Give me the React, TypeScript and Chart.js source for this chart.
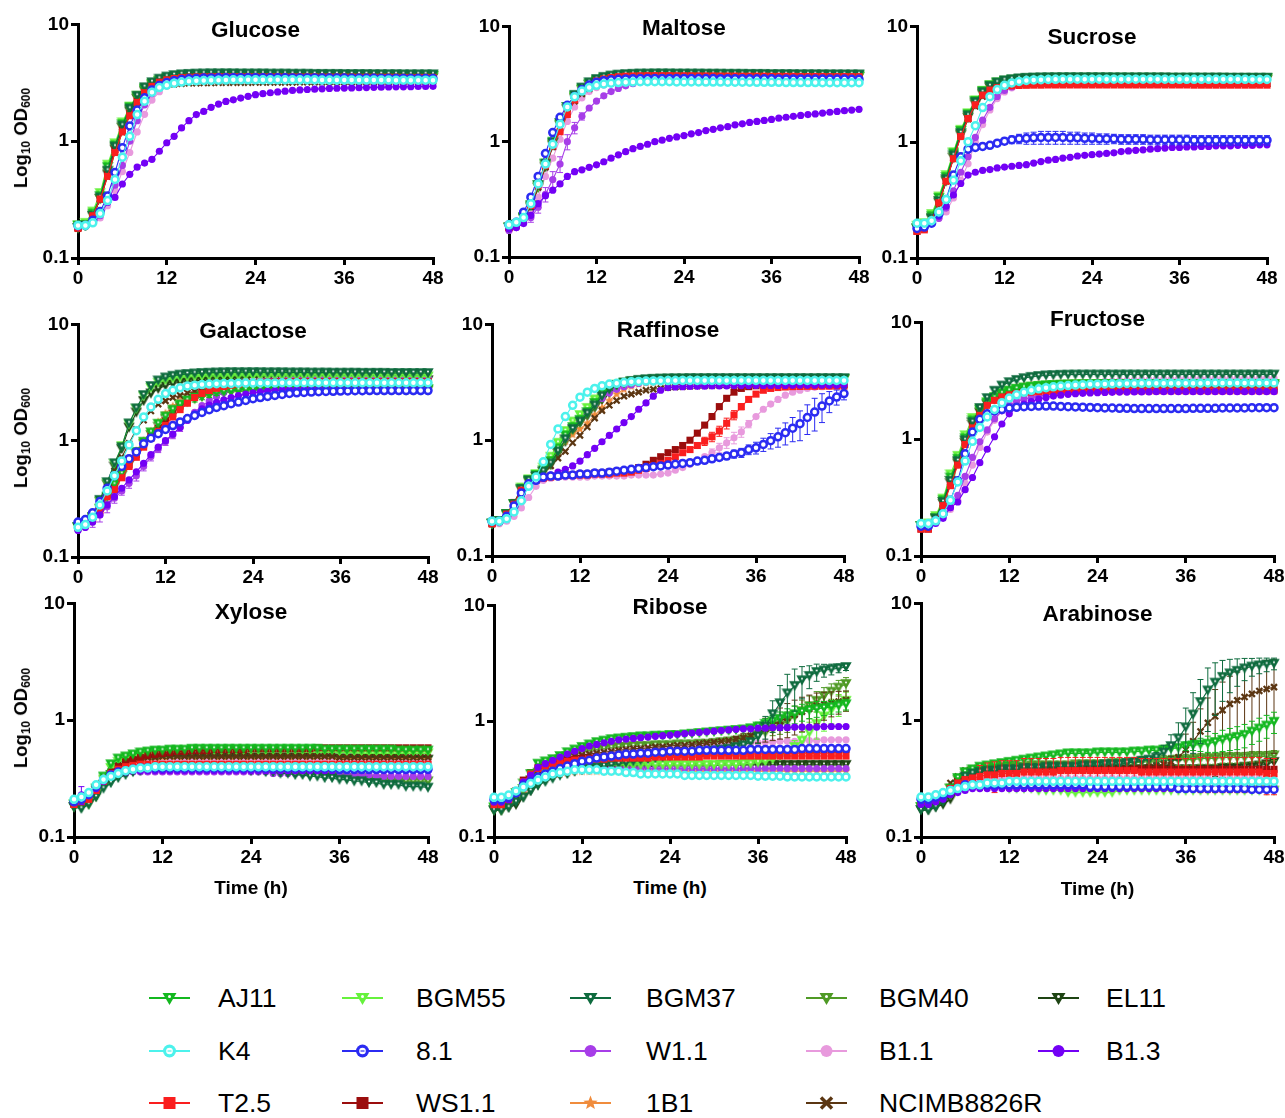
import React, { useEffect, useRef } from 'react';
import { Chart, registerables } from 'chart.js';

Chart.register(...registerables);

const FONT = '"Liberation Sans", Arial, Helvetica, sans-serif';

const HOURS = [0,1,2,3,4,5,6,7,8,9,10,11,12,13,14,15,16,17,18,19,20,21,22,23,24,25,26,27,28,29,30,31,32,33,34,35,36,37,38,39,40,41,42,43,44,45,46,47,48];
const X_TICKS = [0, 12, 24, 36, 48];
const Y_TICKS = [0.1, 1, 10];

const STRAINS = ['AJ11','BGM55','BGM37','BGM40','EL11','K4','8.1','W1.1','B1.1','B1.3','T2.5','WS1.1','1B1','NCIMB8826R'];
const COLORS = ['#13B81F','#66F23C','#0E6B3E','#4F9A25','#1E4413','#4CF2EC','#2B2BF2','#A73DE8','#E89ADD','#7300F5','#FA1E1E','#9B0D0D','#F08C3C','#5B3612'];
const MARKERS = ['tri','tri','tri','tri','tri','ring','ring','dot','dot','dot','square','square','star','cross'];
const DRAW_ORDER = [5,8,4,11,13,0,1,9,10,2,3,6,12,7];

// ---------------- Glucose ----------------
const GLUCOSE = [
  [0.19,0.19,0.24,0.34,0.6,0.92,1.4,1.95,2.4,2.8, 3.1,3.3,3.45,3.55,3.6,3.64,3.67,3.69,3.7,3.71, 3.72,3.72,3.72,3.72,3.71,3.71,3.7,3.7,3.7,3.7, 3.69,3.69,3.69,3.68,3.68,3.68,3.68,3.67,3.67,3.67, 3.66,3.66,3.66,3.66,3.65,3.65,3.65,3.65,3.65],
  [0.19,0.2,0.25,0.36,0.63,0.96,1.45,1.98,2.45,2.85, 3.12,3.32,3.46,3.54,3.6,3.63,3.66,3.68,3.69,3.7, 3.7,3.7,3.7,3.7,3.7,3.69,3.69,3.69,3.68,3.68, 3.68,3.67,3.67,3.67,3.66,3.66,3.66,3.65,3.65,3.65, 3.64,3.64,3.64,3.64,3.63,3.63,3.63,3.63,3.62],
  [0.18,0.19,0.23,0.33,0.56,0.9,1.36,1.9,2.45,2.9, 3.2,3.43,3.58,3.68,3.74,3.77,3.79,3.8,3.81,3.81, 3.81,3.81,3.8,3.8,3.8,3.8,3.79,3.79,3.79,3.78, 3.78,3.78,3.77,3.77,3.77,3.77,3.76,3.76,3.76,3.76, 3.75,3.75,3.75,3.75,3.74,3.74,3.74,3.74,3.74],
  [0.18,0.19,0.23,0.32,0.55,0.88,1.32,1.85,2.35,2.75, 3.05,3.28,3.42,3.52,3.58,3.61,3.63,3.64,3.65,3.65, 3.66,3.66,3.66,3.66,3.65,3.65,3.65,3.65,3.64,3.64, 3.64,3.64,3.63,3.63,3.63,3.63,3.62,3.62,3.62,3.62, 3.61,3.61,3.61,3.61,3.6,3.6,3.6,3.6,3.6],
  [0.18,0.19,0.23,0.32,0.52,0.85,1.3,1.8,2.3,2.7, 3.0,3.2,3.34,3.43,3.48,3.51,3.53,3.54,3.55,3.55, 3.56,3.56,3.56,3.56,3.56,3.55,3.55,3.55,3.55,3.55, 3.54,3.54,3.54,3.54,3.54,3.53,3.53,3.53,3.53,3.53, 3.52,3.52,3.52,3.52,3.52,3.51,3.51,3.51,3.51],
  [0.19,0.19,0.2,0.24,0.31,0.47,0.73,1.1,1.69,2.2, 2.63,2.88,3.02,3.14,3.21,3.26,3.29,3.31,3.32,3.33, 3.34,3.35,3.35,3.35,3.35,3.35,3.35,3.35,3.35,3.35, 3.35,3.35,3.35,3.34,3.34,3.34,3.34,3.34,3.34,3.34, 3.34,3.34,3.34,3.33,3.33,3.33,3.33,3.33,3.33],
  [0.19,0.19,0.21,0.25,0.34,0.54,0.88,1.35,1.85,2.35, 2.75,3.0,3.18,3.3,3.37,3.42,3.45,3.47,3.48,3.49, 3.5,3.5,3.5,3.5,3.5,3.49,3.49,3.49,3.49,3.48, 3.48,3.48,3.48,3.47,3.47,3.47,3.47,3.46,3.46,3.46, 3.46,3.45,3.45,3.45,3.45,3.44,3.44,3.44,3.44],
  [0.18,0.19,0.2,0.23,0.3,0.42,0.62,1.0,1.5,2.05, 2.55,2.9,3.15,3.3,3.4,3.46,3.5,3.53,3.55,3.56, 3.57,3.58,3.58,3.58,3.58,3.58,3.58,3.58,3.57,3.57, 3.57,3.57,3.57,3.56,3.56,3.56,3.56,3.56,3.55,3.55, 3.55,3.55,3.55,3.54,3.54,3.54,3.54,3.54,3.54],
  [0.18,0.19,0.2,0.22,0.28,0.38,0.55,0.8,1.2,1.7, 2.25,2.65,2.95,3.15,3.27,3.34,3.39,3.42,3.44,3.45, 3.46,3.46,3.46,3.46,3.46,3.46,3.46,3.45,3.45,3.45, 3.45,3.45,3.45,3.44,3.44,3.44,3.44,3.44,3.44,3.43, 3.43,3.43,3.43,3.43,3.43,3.42,3.42,3.42,3.42],
  [0.185,0.19,0.2,0.24,0.3,0.33,0.43,0.52,0.6,0.65, 0.7,0.82,0.97,1.1,1.3,1.5,1.69,1.8,1.95,2.08, 2.19,2.26,2.34,2.42,2.5,2.55,2.6,2.64,2.68,2.72, 2.75,2.77,2.79,2.81,2.83,2.84,2.85,2.86,2.87,2.88, 2.89,2.9,2.91,2.92,2.92,2.93,2.94,2.94,2.95],
  [0.18,0.19,0.23,0.32,0.5,0.8,1.2,1.65,2.15,2.6, 2.95,3.2,3.35,3.44,3.5,3.53,3.55,3.56,3.57,3.57, 3.57,3.57,3.57,3.57,3.56,3.56,3.56,3.56,3.55,3.55, 3.55,3.55,3.55,3.54,3.54,3.54,3.54,3.54,3.53,3.53, 3.53,3.53,3.53,3.53,3.52,3.52,3.52,3.52,3.52],
  [0.18,0.19,0.23,0.32,0.52,0.85,1.25,1.72,2.2,2.65, 2.95,3.18,3.32,3.41,3.47,3.5,3.52,3.53,3.54,3.54, 3.54,3.54,3.54,3.54,3.54,3.53,3.53,3.53,3.53,3.53, 3.52,3.52,3.52,3.52,3.52,3.51,3.51,3.51,3.51,3.51, 3.5,3.5,3.5,3.5,3.5,3.5,3.49,3.49,3.49],
  [0.18,0.19,0.23,0.33,0.55,0.88,1.3,1.8,2.3,2.7, 3.0,3.2,3.34,3.42,3.46,3.48,3.5,3.5,3.51,3.51, 3.51,3.51,3.51,3.51,3.5,3.5,3.5,3.5,3.5,3.5, 3.49,3.49,3.49,3.49,3.49,3.48,3.48,3.48,3.48,3.48, 3.47,3.47,3.47,3.47,3.47,3.46,3.46,3.46,3.46],
  [0.18,0.19,0.23,0.32,0.5,0.8,1.2,1.65,2.1,2.5, 2.78,2.94,3.03,3.08,3.11,3.13,3.14,3.15,3.15,3.16, 3.16,3.17,3.17,3.17,3.18,3.18,3.18,3.19,3.19,3.19, 3.2,3.2,3.2,3.2,3.21,3.21,3.21,3.21,3.22,3.22, 3.22,3.22,3.22,3.23,3.23,3.23,3.23,3.23,3.24],
];

// ---------------- Maltose ----------------
const MALTOSE = [
  [0.18,0.19,0.22,0.28,0.42,0.65,1.0,1.45,2.0,2.5, 2.9,3.2,3.42,3.57,3.67,3.74,3.78,3.8,3.82,3.83, 3.84,3.84,3.84,3.84,3.84,3.83,3.83,3.83,3.82,3.82, 3.82,3.81,3.81,3.81,3.8,3.8,3.8,3.8,3.79,3.79, 3.79,3.79,3.78,3.78,3.78,3.78,3.78,3.77,3.77],
  [0.18,0.19,0.22,0.28,0.41,0.63,0.97,1.42,1.95,2.45, 2.85,3.15,3.38,3.52,3.62,3.68,3.72,3.74,3.75,3.76, 3.76,3.76,3.76,3.76,3.75,3.75,3.75,3.74,3.74,3.74, 3.73,3.73,3.73,3.72,3.72,3.72,3.71,3.71,3.71,3.7, 3.7,3.7,3.7,3.69,3.69,3.69,3.69,3.68,3.68],
  [0.18,0.19,0.22,0.28,0.42,0.64,0.98,1.45,2.0,2.55, 2.95,3.28,3.5,3.65,3.75,3.82,3.86,3.88,3.9,3.9, 3.91,3.91,3.91,3.9,3.9,3.9,3.9,3.89,3.89,3.89, 3.88,3.88,3.88,3.87,3.87,3.87,3.86,3.86,3.86,3.86, 3.85,3.85,3.85,3.85,3.84,3.84,3.84,3.84,3.84],
  [0.18,0.19,0.22,0.27,0.4,0.62,0.95,1.4,1.92,2.42, 2.82,3.12,3.35,3.5,3.6,3.66,3.7,3.72,3.73,3.74, 3.74,3.74,3.74,3.74,3.73,3.73,3.73,3.72,3.72,3.72, 3.71,3.71,3.71,3.7,3.7,3.7,3.7,3.69,3.69,3.69, 3.69,3.68,3.68,3.68,3.68,3.67,3.67,3.67,3.67],
  [0.18,0.19,0.22,0.27,0.4,0.6,0.93,1.38,1.9,2.4, 2.8,3.1,3.32,3.47,3.57,3.63,3.67,3.69,3.7,3.71, 3.71,3.71,3.71,3.71,3.7,3.7,3.7,3.69,3.69,3.69, 3.68,3.68,3.68,3.67,3.67,3.67,3.67,3.66,3.66,3.66, 3.66,3.65,3.65,3.65,3.65,3.64,3.64,3.64,3.64],
  [0.19,0.2,0.22,0.29,0.43,0.64,0.95,1.42,2.0,2.45, 2.75,2.95,3.08,3.17,3.22,3.26,3.28,3.3,3.31,3.31, 3.31,3.31,3.31,3.3,3.3,3.3,3.3,3.29,3.29,3.29, 3.28,3.28,3.28,3.28,3.27,3.27,3.27,3.27,3.26,3.26, 3.26,3.26,3.26,3.25,3.25,3.25,3.25,3.25,3.25],
  [0.19,0.2,0.245,0.33,0.5,0.79,1.2,1.63,2.07,2.47, 2.82,3.1,3.28,3.38,3.44,3.48,3.5,3.52,3.53,3.54, 3.54,3.54,3.54,3.54,3.54,3.53,3.53,3.53,3.53,3.52, 3.52,3.52,3.52,3.51,3.51,3.51,3.51,3.5,3.5,3.5, 3.5,3.5,3.49,3.49,3.49,3.49,3.49,3.48,3.48],
  [0.17,0.18,0.2,0.22,0.27,0.35,0.47,0.64,1.0,1.32, 1.66,1.96,2.25,2.5,2.72,2.9,3.05,3.18,3.28,3.36, 3.42,3.46,3.5,3.52,3.54,3.55,3.56,3.56,3.56,3.56, 3.56,3.56,3.55,3.55,3.55,3.55,3.55,3.54,3.54,3.54, 3.54,3.54,3.53,3.53,3.53,3.53,3.53,3.52,3.52],
  [0.17,0.18,0.2,0.24,0.33,0.5,0.72,1.05,1.5,2.0, 2.4,2.72,2.95,3.1,3.2,3.27,3.32,3.35,3.37,3.38, 3.39,3.4,3.4,3.4,3.4,3.4,3.4,3.4,3.39,3.39, 3.39,3.39,3.39,3.38,3.38,3.38,3.38,3.38,3.37,3.37, 3.37,3.37,3.37,3.37,3.36,3.36,3.36,3.36,3.36],
  [0.175,0.18,0.195,0.23,0.29,0.34,0.38,0.43,0.5,0.55, 0.57,0.6,0.63,0.67,0.72,0.77,0.82,0.87,0.91,0.95, 1.0,1.03,1.07,1.1,1.13,1.17,1.2,1.25,1.28,1.32, 1.35,1.4,1.43,1.47,1.5,1.53,1.56,1.6,1.63,1.66, 1.69,1.72,1.74,1.77,1.8,1.83,1.86,1.88,1.91],
  [0.18,0.19,0.22,0.28,0.42,0.62,0.92,1.22,1.72,2.3, 2.8,3.12,3.36,3.5,3.6,3.66,3.7,3.72,3.73,3.74, 3.74,3.74,3.74,3.73,3.73,3.73,3.72,3.72,3.72,3.71, 3.71,3.71,3.7,3.7,3.7,3.7,3.69,3.69,3.69,3.69, 3.68,3.68,3.68,3.68,3.67,3.67,3.67,3.67,3.67],
  [0.18,0.19,0.22,0.28,0.43,0.66,1.0,1.45,1.95,2.45, 2.85,3.15,3.38,3.52,3.62,3.68,3.71,3.73,3.74,3.75, 3.75,3.75,3.75,3.74,3.74,3.74,3.73,3.73,3.73,3.72, 3.72,3.72,3.71,3.71,3.71,3.71,3.7,3.7,3.7,3.7, 3.69,3.69,3.69,3.69,3.68,3.68,3.68,3.68,3.68],
  [0.18,0.19,0.22,0.28,0.42,0.64,0.97,1.42,1.95,2.45, 2.83,3.12,3.34,3.48,3.57,3.62,3.65,3.67,3.68,3.69, 3.69,3.69,3.69,3.69,3.68,3.68,3.68,3.67,3.67,3.67, 3.66,3.66,3.66,3.66,3.65,3.65,3.65,3.65,3.64,3.64, 3.64,3.64,3.63,3.63,3.63,3.63,3.63,3.62,3.62],
  [0.18,0.19,0.22,0.27,0.4,0.6,0.9,1.32,1.8,2.25, 2.6,2.88,3.08,3.22,3.32,3.39,3.44,3.47,3.49,3.5, 3.51,3.51,3.51,3.51,3.51,3.5,3.5,3.5,3.5,3.5, 3.49,3.49,3.49,3.49,3.48,3.48,3.48,3.48,3.48,3.47, 3.47,3.47,3.47,3.47,3.46,3.46,3.46,3.46,3.46],
];

// ---------------- Sucrose ----------------
const SUCROSE = [
  [0.18,0.19,0.23,0.33,0.5,0.8,1.25,1.74,2.27,2.76, 3.1,3.28,3.4,3.47,3.52,3.55,3.57,3.58,3.59,3.6, 3.6,3.6,3.6,3.6,3.6,3.6,3.6,3.6,3.6,3.6, 3.6,3.6,3.6,3.6,3.59,3.59,3.59,3.59,3.59,3.59, 3.59,3.59,3.59,3.58,3.58,3.58,3.58,3.58,3.58],
  [0.19,0.2,0.24,0.34,0.52,0.82,1.28,1.78,2.3,2.78, 3.1,3.27,3.38,3.45,3.5,3.53,3.55,3.56,3.57,3.57, 3.58,3.58,3.58,3.58,3.58,3.58,3.58,3.58,3.58,3.58, 3.57,3.57,3.57,3.57,3.57,3.57,3.57,3.57,3.56,3.56, 3.56,3.56,3.56,3.56,3.56,3.56,3.56,3.55,3.55],
  [0.18,0.19,0.22,0.31,0.48,0.77,1.2,1.7,2.22,2.7, 3.05,3.28,3.42,3.5,3.56,3.6,3.62,3.63,3.64,3.64, 3.64,3.64,3.64,3.64,3.64,3.64,3.64,3.63,3.63,3.63, 3.63,3.63,3.63,3.63,3.63,3.62,3.62,3.62,3.62,3.62, 3.62,3.62,3.62,3.61,3.61,3.61,3.61,3.61,3.61],
  [0.18,0.19,0.22,0.31,0.47,0.75,1.18,1.66,2.18,2.65, 3.0,3.22,3.36,3.44,3.49,3.52,3.54,3.55,3.56,3.56, 3.56,3.56,3.56,3.56,3.56,3.56,3.56,3.56,3.55,3.55, 3.55,3.55,3.55,3.55,3.55,3.55,3.54,3.54,3.54,3.54, 3.54,3.54,3.54,3.54,3.53,3.53,3.53,3.53,3.53],
  [0.18,0.19,0.22,0.3,0.46,0.73,1.15,1.62,2.12,2.6, 2.95,3.15,3.28,3.36,3.41,3.44,3.46,3.47,3.48,3.48, 3.48,3.48,3.48,3.48,3.48,3.48,3.48,3.47,3.47,3.47, 3.47,3.47,3.47,3.47,3.47,3.46,3.46,3.46,3.46,3.46, 3.46,3.46,3.46,3.46,3.45,3.45,3.45,3.45,3.45],
  [0.2,0.2,0.21,0.25,0.32,0.47,0.69,1.01,1.39,1.99, 2.47,2.85,3.1,3.25,3.35,3.41,3.45,3.47,3.48,3.49, 3.5,3.5,3.5,3.5,3.5,3.5,3.5,3.5,3.5,3.5, 3.5,3.5,3.5,3.5,3.5,3.49,3.49,3.49,3.49,3.49, 3.49,3.49,3.49,3.49,3.49,3.49,3.48,3.48,3.48],
  [0.18,0.185,0.2,0.24,0.32,0.52,0.75,0.87,0.9,0.92, 0.94,0.98,1.02,1.05,1.07,1.08,1.09,1.1,1.1,1.1, 1.1,1.09,1.09,1.08,1.08,1.07,1.07,1.07,1.06,1.06, 1.06,1.06,1.05,1.05,1.05,1.05,1.05,1.05,1.04,1.04, 1.04,1.04,1.04,1.04,1.04,1.04,1.04,1.04,1.04],
  [0.18,0.185,0.2,0.22,0.27,0.38,0.55,0.75,1.1,1.55, 2.0,2.48,2.8,3.0,3.15,3.25,3.32,3.37,3.4,3.42, 3.43,3.44,3.45,3.45,3.45,3.45,3.45,3.45,3.45,3.45, 3.45,3.45,3.44,3.44,3.44,3.44,3.44,3.44,3.44,3.44, 3.44,3.43,3.43,3.43,3.43,3.43,3.43,3.43,3.43],
  [0.18,0.185,0.2,0.22,0.25,0.33,0.47,0.65,1.0,1.42, 1.9,2.38,2.72,2.95,3.1,3.2,3.27,3.32,3.35,3.37, 3.38,3.39,3.4,3.4,3.4,3.4,3.4,3.4,3.4,3.4, 3.4,3.4,3.39,3.39,3.39,3.39,3.39,3.39,3.39,3.39, 3.38,3.38,3.38,3.38,3.38,3.38,3.38,3.38,3.38],
  [0.18,0.185,0.2,0.23,0.28,0.35,0.44,0.52,0.55,0.57, 0.58,0.6,0.61,0.62,0.63,0.64,0.66,0.68,0.7,0.71, 0.73,0.74,0.76,0.77,0.78,0.79,0.8,0.81,0.83,0.84, 0.85,0.86,0.87,0.88,0.89,0.9,0.9,0.91,0.91,0.92, 0.92,0.93,0.93,0.93,0.94,0.94,0.94,0.95,0.95],
  [0.17,0.175,0.21,0.3,0.46,0.72,1.12,1.6,2.1,2.55, 2.82,2.96,3.03,3.07,3.09,3.1,3.11,3.11,3.12,3.12, 3.12,3.12,3.12,3.12,3.12,3.12,3.12,3.12,3.12,3.12, 3.12,3.12,3.12,3.12,3.12,3.12,3.12,3.12,3.11,3.11, 3.11,3.11,3.11,3.11,3.11,3.11,3.11,3.11,3.11],
  [0.17,0.18,0.21,0.3,0.47,0.74,1.15,1.63,2.13,2.6, 2.9,3.05,3.13,3.18,3.2,3.22,3.23,3.23,3.24,3.24, 3.24,3.24,3.24,3.24,3.24,3.24,3.24,3.24,3.24,3.24, 3.24,3.23,3.23,3.23,3.23,3.23,3.23,3.23,3.23,3.23, 3.23,3.23,3.23,3.23,3.22,3.22,3.22,3.22,3.22],
  [0.18,0.19,0.22,0.31,0.48,0.77,1.2,1.68,2.2,2.66, 3.0,3.2,3.32,3.39,3.43,3.46,3.48,3.49,3.5,3.5, 3.5,3.5,3.5,3.5,3.5,3.5,3.5,3.5,3.5,3.5, 3.5,3.5,3.5,3.49,3.49,3.49,3.49,3.49,3.49,3.49, 3.49,3.49,3.49,3.49,3.49,3.48,3.48,3.48,3.48],
  [0.18,0.19,0.22,0.3,0.46,0.73,1.12,1.58,2.05,2.48, 2.78,2.95,3.05,3.1,3.13,3.15,3.16,3.17,3.17,3.18, 3.18,3.18,3.18,3.18,3.18,3.18,3.18,3.18,3.18,3.18, 3.18,3.18,3.18,3.18,3.18,3.18,3.18,3.18,3.18,3.18, 3.18,3.18,3.18,3.18,3.18,3.18,3.18,3.18,3.18],
];

// ---------------- Galactose ----------------
const GALACTOSE = [
  [0.18,0.19,0.21,0.26,0.33,0.42,0.52,0.64,0.8,0.98, 1.18,1.4,1.62,1.85,2.05,2.22,2.35,2.45,2.53,2.6, 2.65,2.69,2.72,2.74,2.76,2.77,2.78,2.79,2.79,2.8, 2.8,2.8,2.8,2.8,2.8,2.8,2.8,2.8,2.79,2.79, 2.79,2.79,2.79,2.79,2.79,2.78,2.78,2.78,2.78],
  [0.18,0.19,0.22,0.3,0.43,0.63,0.9,1.38,1.88,2.42, 2.85,3.15,3.32,3.43,3.5,3.54,3.57,3.59,3.6,3.61, 3.61,3.62,3.62,3.62,3.62,3.62,3.61,3.61,3.61,3.61, 3.6,3.6,3.6,3.6,3.6,3.59,3.59,3.59,3.59,3.59, 3.58,3.58,3.58,3.58,3.58,3.57,3.57,3.57,3.57],
  [0.18,0.19,0.22,0.31,0.44,0.64,0.88,1.41,1.9,2.47, 2.95,3.3,3.5,3.62,3.7,3.75,3.79,3.82,3.84,3.86, 3.87,3.88,3.88,3.88,3.88,3.88,3.87,3.87,3.87,3.86, 3.86,3.86,3.85,3.85,3.85,3.84,3.84,3.84,3.84,3.83, 3.83,3.83,3.83,3.82,3.82,3.82,3.82,3.82,3.82],
  [0.18,0.19,0.21,0.26,0.32,0.4,0.5,0.62,0.77,0.94, 1.12,1.32,1.55,1.78,1.98,2.15,2.28,2.38,2.46,2.53, 2.58,2.62,2.65,2.67,2.69,2.7,2.71,2.72,2.72,2.73, 2.73,2.73,2.73,2.73,2.73,2.73,2.73,2.73,2.72,2.72, 2.72,2.72,2.72,2.72,2.72,2.71,2.71,2.71,2.71],
  [0.18,0.19,0.22,0.3,0.42,0.6,0.85,1.3,1.75,2.2, 2.55,2.8,2.98,3.1,3.18,3.23,3.27,3.3,3.32,3.33, 3.34,3.35,3.35,3.35,3.35,3.35,3.35,3.35,3.35,3.34, 3.34,3.34,3.34,3.34,3.34,3.33,3.33,3.33,3.33,3.33, 3.33,3.32,3.32,3.32,3.32,3.32,3.32,3.32,3.31],
  [0.18,0.19,0.22,0.28,0.37,0.5,0.67,0.92,1.22,1.6, 1.95,2.27,2.54,2.71,2.85,2.95,3.0,3.04,3.07,3.09, 3.1,3.11,3.12,3.13,3.13,3.14,3.14,3.14,3.15,3.15, 3.15,3.15,3.15,3.15,3.15,3.15,3.15,3.15,3.15,3.15, 3.15,3.15,3.15,3.15,3.15,3.15,3.15,3.15,3.15],
  [0.2,0.21,0.24,0.3,0.39,0.5,0.6,0.7,0.8,0.94, 1.05,1.15,1.25,1.35,1.45,1.55,1.65,1.75,1.85,1.93, 2.0,2.08,2.15,2.22,2.3,2.35,2.4,2.45,2.5,2.55, 2.58,2.6,2.62,2.64,2.65,2.66,2.67,2.68,2.69,2.69, 2.7,2.7,2.7,2.7,2.7,2.7,2.7,2.7,2.7],
  [0.17,0.18,0.2,0.23,0.27,0.32,0.37,0.43,0.5,0.6, 0.73,0.85,0.98,1.12,1.3,1.5,1.75,2.0,2.2,2.4, 2.6,2.78,2.93,3.04,3.14,3.22,3.28,3.32,3.36,3.39, 3.42,3.44,3.46,3.47,3.48,3.49,3.5,3.5,3.5,3.5, 3.5,3.5,3.5,3.5,3.5,3.5,3.5,3.5,3.5],
  [0.18,0.19,0.21,0.25,0.31,0.4,0.5,0.62,0.78,0.95, 1.15,1.38,1.62,1.88,2.12,2.35,2.55,2.72,2.86,2.97, 3.06,3.13,3.19,3.24,3.28,3.31,3.34,3.36,3.38,3.39, 3.4,3.41,3.42,3.42,3.43,3.43,3.43,3.43,3.43,3.43, 3.43,3.43,3.43,3.43,3.43,3.43,3.43,3.43,3.43],
  [0.17,0.18,0.2,0.23,0.28,0.33,0.39,0.46,0.54,0.64, 0.76,0.88,1.0,1.14,1.3,1.5,1.7,1.88,2.02,2.14, 2.25,2.35,2.44,2.52,2.58,2.63,2.67,2.7,2.73,2.75, 2.77,2.78,2.79,2.8,2.8,2.8,2.8,2.8,2.8,2.8, 2.8,2.8,2.8,2.8,2.8,2.8,2.8,2.8,2.8],
  [0.18,0.19,0.21,0.25,0.33,0.38,0.48,0.6,0.72,0.88, 1.05,1.2,1.35,1.6,1.85,2.1,2.35,2.55,2.7,2.82, 2.92,3.0,3.06,3.1,3.13,3.15,3.17,3.18,3.19,3.2, 3.2,3.2,3.2,3.2,3.2,3.2,3.2,3.2,3.2,3.2, 3.2,3.2,3.2,3.2,3.2,3.2,3.2,3.2,3.2],
  [0.18,0.19,0.21,0.26,0.34,0.4,0.5,0.62,0.76,0.92, 1.1,1.28,1.48,1.72,1.98,2.22,2.45,2.62,2.76,2.88, 2.97,3.04,3.09,3.13,3.16,3.18,3.2,3.21,3.22,3.22, 3.23,3.23,3.23,3.23,3.23,3.23,3.23,3.23,3.23,3.23, 3.23,3.23,3.23,3.23,3.23,3.23,3.23,3.23,3.23],
  [0.18,0.19,0.21,0.26,0.34,0.42,0.53,0.66,0.82,1.0, 1.2,1.45,1.72,1.98,2.22,2.42,2.58,2.7,2.8,2.88, 2.95,3.0,3.04,3.07,3.1,3.12,3.14,3.15,3.16,3.17, 3.18,3.18,3.19,3.19,3.19,3.2,3.2,3.2,3.2,3.2, 3.2,3.2,3.2,3.2,3.2,3.2,3.2,3.2,3.2],
  [0.18,0.19,0.22,0.29,0.4,0.55,0.72,0.95,1.25,1.5, 1.8,2.06,2.2,2.35,2.45,2.57,2.65,2.72,2.78,2.83, 2.87,2.9,2.92,2.94,2.95,2.96,2.97,2.98,2.98,2.99, 2.99,2.99,3.0,3.0,3.0,3.0,3.0,3.0,3.0,3.0, 3.0,3.0,3.0,3.0,3.0,3.0,3.0,3.0,3.0],
];

// ---------------- Raffinose ----------------
const RAFFINOSE = [
  [0.19,0.2,0.23,0.28,0.38,0.45,0.5,0.55,0.66,0.85, 1.1,1.3,1.5,1.75,2.1,2.5,2.8,3.0,3.12,3.2, 3.26,3.3,3.33,3.35,3.36,3.37,3.38,3.38,3.38,3.38, 3.38,3.38,3.38,3.38,3.38,3.38,3.38,3.38,3.38,3.38, 3.38,3.38,3.38,3.38,3.38,3.38,3.38,3.38,3.38],
  [0.19,0.2,0.23,0.28,0.39,0.46,0.51,0.58,0.72,0.95, 1.2,1.45,1.65,1.9,2.25,2.6,2.85,3.02,3.13,3.2, 3.25,3.29,3.32,3.34,3.35,3.36,3.36,3.37,3.37,3.37, 3.37,3.37,3.37,3.37,3.37,3.37,3.37,3.37,3.37,3.37, 3.37,3.37,3.37,3.37,3.37,3.37,3.37,3.37,3.37],
  [0.19,0.2,0.23,0.28,0.38,0.45,0.49,0.54,0.63,0.8, 1.02,1.25,1.45,1.7,2.0,2.4,2.75,3.0,3.15,3.25, 3.32,3.36,3.39,3.41,3.42,3.43,3.43,3.44,3.44,3.44, 3.44,3.44,3.44,3.44,3.44,3.44,3.44,3.44,3.44,3.44, 3.44,3.44,3.44,3.44,3.44,3.44,3.44,3.44,3.44],
  [0.19,0.2,0.23,0.28,0.37,0.44,0.48,0.53,0.62,0.78, 1.0,1.22,1.42,1.66,1.95,2.3,2.65,2.9,3.07,3.18, 3.25,3.3,3.33,3.35,3.36,3.37,3.38,3.38,3.38,3.38, 3.38,3.38,3.38,3.38,3.38,3.38,3.38,3.38,3.38,3.38, 3.38,3.38,3.38,3.38,3.38,3.38,3.38,3.38,3.38],
  [0.19,0.2,0.23,0.28,0.37,0.44,0.48,0.53,0.61,0.76, 0.97,1.18,1.4,1.62,1.9,2.22,2.55,2.82,3.0,3.12, 3.2,3.25,3.28,3.3,3.31,3.32,3.32,3.33,3.33,3.33, 3.33,3.33,3.33,3.33,3.33,3.33,3.33,3.33,3.33,3.33, 3.33,3.33,3.33,3.33,3.33,3.33,3.33,3.33,3.33],
  [0.2,0.2,0.21,0.24,0.3,0.4,0.48,0.65,0.92,1.25, 1.6,2.0,2.35,2.6,2.8,2.95,3.05,3.1,3.15,3.2, 3.22,3.24,3.25,3.26,3.27,3.27,3.28,3.28,3.28,3.28, 3.28,3.28,3.28,3.28,3.28,3.28,3.28,3.28,3.28,3.28, 3.28,3.28,3.28,3.28,3.28,3.28,3.28,3.28,3.28],
  [0.2,0.2,0.22,0.27,0.35,0.42,0.45,0.48,0.49,0.49, 0.5,0.5,0.51,0.51,0.52,0.52,0.53,0.54,0.55,0.56, 0.57,0.58,0.59,0.6,0.61,0.62,0.63,0.64,0.66,0.67, 0.69,0.71,0.73,0.76,0.78,0.83,0.86,0.92,0.99,1.07, 1.16,1.27,1.39,1.57,1.75,1.97,2.18,2.36,2.53],
  [0.19,0.2,0.22,0.27,0.36,0.43,0.48,0.56,0.7,0.88, 1.05,1.3,1.55,1.8,2.05,2.3,2.55,2.75,2.9,3.0, 3.1,3.16,3.2,3.23,3.25,3.27,3.28,3.29,3.3,3.3, 3.3,3.3,3.3,3.3,3.3,3.3,3.3,3.3,3.3,3.3, 3.3,3.3,3.3,3.3,3.3,3.3,3.3,3.3,3.3],
  [0.19,0.19,0.2,0.22,0.26,0.32,0.4,0.45,0.47,0.48, 0.48,0.48,0.48,0.48,0.49,0.49,0.49,0.49,0.49,0.5, 0.5,0.5,0.5,0.51,0.52,0.55,0.58,0.62,0.66,0.72, 0.78,0.86,0.95,1.05,1.18,1.38,1.6,1.85,2.05,2.25, 2.45,2.6,2.7,2.8,2.86,2.9,2.93,2.95,2.96],
  [0.2,0.2,0.22,0.25,0.33,0.4,0.45,0.47,0.5,0.53, 0.56,0.6,0.66,0.75,0.85,0.97,1.1,1.25,1.42,1.6, 1.85,2.1,2.4,2.7,2.85,2.88,2.9,2.91,2.92,2.93, 2.94,2.95,2.95,2.96,2.96,2.96,2.97,2.97,2.97,2.97, 2.97,2.98,2.98,2.98,2.98,2.98,2.98,2.98,2.98],
  [0.19,0.2,0.23,0.28,0.37,0.42,0.45,0.47,0.48,0.49, 0.5,0.5,0.5,0.5,0.51,0.51,0.51,0.52,0.52,0.53, 0.55,0.57,0.6,0.63,0.67,0.72,0.78,0.83,0.9,0.98, 1.07,1.2,1.4,1.65,1.95,2.25,2.5,2.7,2.8,2.85, 2.88,2.9,2.91,2.92,2.92,2.93,2.93,2.93,2.93],
  [0.19,0.2,0.23,0.29,0.38,0.43,0.46,0.48,0.49,0.49, 0.5,0.5,0.51,0.51,0.52,0.52,0.53,0.53,0.54,0.55, 0.58,0.62,0.67,0.72,0.78,0.83,0.9,1.0,1.15,1.35, 1.6,1.95,2.3,2.6,2.8,2.9,2.95,2.98,3.0,3.01, 3.02,3.02,3.02,3.02,3.02,3.02,3.02,3.02,3.02],
  [0.19,0.2,0.23,0.28,0.37,0.44,0.48,0.54,0.64,0.8, 0.98,1.12,1.25,1.4,1.65,1.9,2.2,2.5,2.75,2.92, 3.05,3.13,3.19,3.23,3.26,3.28,3.29,3.3,3.3,3.3, 3.3,3.3,3.3,3.3,3.3,3.3,3.3,3.3,3.3,3.3, 3.3,3.3,3.3,3.3,3.3,3.3,3.3,3.3,3.3],
  [0.19,0.2,0.23,0.28,0.37,0.43,0.47,0.52,0.6,0.7, 0.8,0.95,1.1,1.3,1.55,1.8,2.0,2.2,2.4,2.5, 2.6,2.7,2.75,2.8,2.85,2.88,2.9,2.92,2.94,2.95, 2.96,2.97,2.98,2.98,2.99,2.99,3.0,3.0,3.0,3.0, 3.0,3.0,3.0,3.0,3.0,3.0,3.0,3.0,3.0],
];

// ---------------- Fructose ----------------
const FRUCTOSE = [
  [0.18,0.18,0.21,0.3,0.47,0.68,1.02,1.45,1.78,2.05, 2.28,2.47,2.6,2.7,2.77,2.82,2.86,2.89,2.91,2.93, 2.94,2.95,2.96,2.96,2.97,2.97,2.97,2.97,2.97,2.97, 2.97,2.97,2.97,2.97,2.97,2.97,2.97,2.97,2.97,2.97, 2.97,2.97,2.97,2.97,2.97,2.97,2.97,2.97,2.97],
  [0.18,0.19,0.22,0.31,0.5,0.72,1.08,1.52,1.82,2.08, 2.3,2.48,2.6,2.7,2.76,2.81,2.85,2.88,2.9,2.92, 2.93,2.94,2.95,2.95,2.96,2.96,2.96,2.96,2.96,2.96, 2.96,2.96,2.96,2.96,2.96,2.96,2.96,2.96,2.96,2.96, 2.96,2.96,2.96,2.96,2.96,2.96,2.96,2.96,2.96],
  [0.18,0.18,0.21,0.29,0.44,0.65,0.98,1.4,1.85,2.25, 2.6,2.88,3.08,3.22,3.33,3.42,3.48,3.52,3.54,3.56, 3.57,3.58,3.58,3.58,3.58,3.58,3.58,3.58,3.58,3.58, 3.58,3.58,3.58,3.58,3.58,3.58,3.58,3.58,3.58,3.58, 3.58,3.58,3.58,3.58,3.58,3.58,3.58,3.58,3.58],
  [0.18,0.18,0.21,0.29,0.44,0.64,0.96,1.38,1.72,2.0, 2.22,2.4,2.53,2.63,2.7,2.75,2.79,2.82,2.84,2.86, 2.87,2.88,2.89,2.89,2.9,2.9,2.9,2.9,2.9,2.9, 2.9,2.9,2.9,2.9,2.9,2.9,2.9,2.9,2.9,2.9, 2.9,2.9,2.9,2.9,2.9,2.9,2.9,2.9,2.9],
  [0.18,0.18,0.21,0.28,0.42,0.62,0.93,1.33,1.68,1.98, 2.2,2.38,2.5,2.6,2.67,2.72,2.76,2.79,2.81,2.83, 2.84,2.85,2.86,2.86,2.87,2.87,2.87,2.87,2.87,2.87, 2.87,2.87,2.87,2.87,2.87,2.87,2.87,2.87,2.87,2.87, 2.87,2.87,2.87,2.87,2.87,2.87,2.87,2.87,2.87],
  [0.19,0.19,0.2,0.23,0.3,0.43,0.65,0.96,1.26,1.55, 1.8,2.05,2.25,2.4,2.52,2.62,2.7,2.76,2.81,2.85, 2.88,2.91,2.93,2.95,2.96,2.97,2.98,2.99,3.0,3.0, 3.01,3.01,3.01,3.02,3.02,3.02,3.02,3.02,3.02,3.03, 3.03,3.03,3.03,3.03,3.03,3.03,3.03,3.03,3.03],
  [0.18,0.18,0.2,0.23,0.3,0.44,0.75,1.15,1.48,1.65, 1.75,1.8,1.85,1.88,1.9,1.91,1.92,1.92,1.92,1.91, 1.9,1.89,1.88,1.87,1.86,1.85,1.85,1.84,1.84,1.83, 1.83,1.83,1.83,1.83,1.83,1.83,1.83,1.84,1.84,1.84, 1.84,1.85,1.85,1.85,1.85,1.86,1.86,1.86,1.86],
  [0.18,0.18,0.2,0.22,0.26,0.33,0.48,0.7,0.95,1.2, 1.5,1.75,1.95,2.1,2.2,2.28,2.34,2.39,2.43,2.46, 2.49,2.51,2.53,2.55,2.56,2.57,2.58,2.59,2.6,2.6, 2.61,2.61,2.62,2.62,2.62,2.63,2.63,2.63,2.63,2.64, 2.64,2.64,2.64,2.64,2.65,2.65,2.65,2.65,2.65],
  [0.18,0.18,0.2,0.22,0.25,0.3,0.42,0.6,0.85,1.15, 1.45,1.75,2.0,2.2,2.4,2.55,2.65,2.74,2.82,2.88, 2.94,2.99,3.03,3.07,3.1,3.13,3.15,3.17,3.19,3.2, 3.22,3.23,3.24,3.25,3.26,3.27,3.28,3.28,3.29,3.29, 3.3,3.3,3.3,3.31,3.31,3.31,3.31,3.32,3.32],
  [0.18,0.18,0.19,0.21,0.26,0.29,0.37,0.47,0.63,0.82, 1.05,1.35,1.65,1.85,2.0,2.1,2.2,2.28,2.34,2.38, 2.42,2.45,2.47,2.49,2.5,2.51,2.52,2.53,2.53,2.54, 2.54,2.54,2.55,2.55,2.55,2.55,2.55,2.55,2.55,2.55, 2.55,2.55,2.55,2.55,2.55,2.55,2.55,2.55,2.55],
  [0.17,0.17,0.2,0.27,0.4,0.6,0.9,1.25,1.6,1.95, 2.15,2.3,2.4,2.46,2.5,2.53,2.55,2.56,2.57,2.58, 2.58,2.59,2.59,2.59,2.6,2.6,2.6,2.6,2.6,2.6, 2.6,2.6,2.6,2.6,2.6,2.6,2.6,2.6,2.6,2.6, 2.6,2.6,2.6,2.6,2.6,2.6,2.6,2.6,2.6],
  [0.17,0.17,0.2,0.27,0.41,0.62,0.94,1.32,1.7,2.0, 2.2,2.35,2.45,2.52,2.56,2.59,2.61,2.63,2.64,2.65, 2.66,2.66,2.67,2.67,2.67,2.68,2.68,2.68,2.68,2.68, 2.68,2.68,2.68,2.68,2.68,2.68,2.68,2.68,2.68,2.68, 2.68,2.68,2.68,2.68,2.68,2.68,2.68,2.68,2.68],
  [0.18,0.18,0.21,0.29,0.45,0.66,1.0,1.42,1.8,2.1, 2.35,2.55,2.7,2.8,2.87,2.92,2.96,2.98,3.0,3.02, 3.03,3.04,3.05,3.05,3.06,3.06,3.06,3.06,3.06,3.06, 3.06,3.06,3.06,3.06,3.06,3.06,3.06,3.06,3.06,3.06, 3.06,3.06,3.06,3.06,3.06,3.06,3.06,3.06,3.06],
  [0.18,0.18,0.21,0.28,0.43,0.63,0.95,1.35,1.72,2.0, 2.22,2.4,2.52,2.6,2.66,2.7,2.73,2.75,2.76,2.77, 2.78,2.78,2.79,2.79,2.79,2.8,2.8,2.8,2.8,2.8, 2.8,2.8,2.8,2.8,2.8,2.8,2.8,2.8,2.8,2.8, 2.8,2.8,2.8,2.8,2.8,2.8,2.8,2.8,2.8],
];

// ---------------- Xylose ----------------
const XYLOSE = [
  [0.19,0.19,0.22,0.26,0.33,0.42,0.47,0.49,0.51,0.53, 0.54,0.55,0.55,0.56,0.56,0.56,0.57,0.57,0.57,0.57, 0.57,0.57,0.57,0.57,0.57,0.57,0.57,0.57,0.57,0.57, 0.57,0.57,0.57,0.57,0.56,0.56,0.56,0.56,0.56,0.56, 0.56,0.56,0.56,0.56,0.55,0.55,0.55,0.55,0.55],
  [0.19,0.19,0.21,0.25,0.31,0.39,0.44,0.47,0.49,0.5, 0.51,0.52,0.52,0.53,0.53,0.53,0.54,0.54,0.54,0.54, 0.54,0.54,0.54,0.54,0.54,0.54,0.54,0.54,0.54,0.54, 0.54,0.53,0.53,0.53,0.53,0.53,0.53,0.53,0.53,0.52, 0.52,0.52,0.52,0.52,0.52,0.52,0.52,0.52,0.52],
  [0.18,0.175,0.19,0.22,0.26,0.29,0.32,0.34,0.36,0.37, 0.38,0.38,0.39,0.39,0.39,0.39,0.39,0.39,0.39,0.39, 0.38,0.38,0.38,0.38,0.37,0.37,0.36,0.36,0.35,0.35, 0.34,0.34,0.33,0.33,0.32,0.32,0.31,0.31,0.3,0.3, 0.29,0.29,0.28,0.28,0.28,0.27,0.27,0.27,0.265],
  [0.18,0.18,0.19,0.22,0.27,0.31,0.34,0.36,0.37,0.38, 0.39,0.39,0.4,0.4,0.4,0.4,0.4,0.4,0.4,0.4, 0.4,0.4,0.39,0.39,0.39,0.38,0.38,0.37,0.37,0.36, 0.36,0.35,0.35,0.34,0.34,0.33,0.33,0.32,0.32,0.32, 0.31,0.31,0.31,0.3,0.3,0.3,0.3,0.3,0.3],
  [0.18,0.18,0.2,0.23,0.28,0.34,0.39,0.42,0.44,0.45, 0.46,0.47,0.47,0.47,0.48,0.48,0.48,0.48,0.48,0.48, 0.48,0.48,0.48,0.48,0.48,0.48,0.48,0.48,0.48,0.48, 0.48,0.48,0.48,0.47,0.47,0.47,0.47,0.47,0.47,0.47, 0.47,0.47,0.47,0.47,0.47,0.46,0.46,0.46,0.46],
  [0.21,0.22,0.24,0.28,0.31,0.33,0.35,0.37,0.38,0.39, 0.39,0.4,0.4,0.4,0.4,0.4,0.4,0.4,0.4,0.4, 0.4,0.4,0.4,0.4,0.4,0.4,0.4,0.4,0.4,0.4, 0.4,0.4,0.4,0.4,0.4,0.4,0.4,0.4,0.4,0.4, 0.4,0.4,0.4,0.4,0.4,0.4,0.4,0.4,0.4],
  [0.2,0.21,0.23,0.27,0.31,0.34,0.36,0.37,0.38,0.39, 0.39,0.39,0.39,0.39,0.39,0.39,0.39,0.39,0.39,0.39, 0.39,0.39,0.39,0.39,0.39,0.39,0.39,0.39,0.39,0.39, 0.39,0.39,0.39,0.39,0.39,0.39,0.38,0.38,0.38,0.38, 0.38,0.38,0.38,0.38,0.38,0.38,0.38,0.38,0.38],
  [0.2,0.2,0.22,0.25,0.29,0.32,0.34,0.35,0.36,0.36, 0.36,0.36,0.36,0.36,0.36,0.36,0.36,0.36,0.36,0.36, 0.36,0.36,0.36,0.36,0.36,0.36,0.36,0.35,0.35,0.35, 0.35,0.35,0.35,0.35,0.34,0.34,0.34,0.34,0.34,0.34, 0.34,0.33,0.33,0.33,0.33,0.33,0.33,0.33,0.33],
  [0.2,0.21,0.22,0.25,0.3,0.35,0.38,0.4,0.41,0.42, 0.43,0.43,0.43,0.44,0.44,0.44,0.44,0.44,0.44,0.44, 0.44,0.44,0.44,0.44,0.44,0.44,0.44,0.44,0.44,0.44, 0.44,0.44,0.44,0.44,0.44,0.44,0.44,0.44,0.44,0.44, 0.44,0.44,0.44,0.44,0.44,0.44,0.44,0.44,0.44],
  [0.21,0.23,0.23,0.26,0.3,0.33,0.35,0.36,0.37,0.37, 0.37,0.37,0.37,0.37,0.37,0.37,0.37,0.37,0.37,0.37, 0.37,0.37,0.37,0.37,0.37,0.37,0.37,0.37,0.37,0.37, 0.37,0.37,0.37,0.37,0.37,0.37,0.37,0.37,0.37,0.37, 0.37,0.37,0.37,0.37,0.37,0.37,0.37,0.37,0.37],
  [0.19,0.2,0.21,0.25,0.3,0.35,0.38,0.4,0.41,0.42, 0.42,0.42,0.42,0.42,0.42,0.42,0.42,0.42,0.42,0.42, 0.42,0.42,0.42,0.42,0.42,0.42,0.42,0.42,0.42,0.42, 0.42,0.42,0.42,0.42,0.42,0.42,0.42,0.42,0.42,0.42, 0.42,0.42,0.42,0.42,0.42,0.42,0.42,0.42,0.42],
  [0.19,0.2,0.21,0.25,0.31,0.36,0.4,0.44,0.46,0.48, 0.5,0.51,0.52,0.53,0.54,0.54,0.55,0.55,0.55,0.56, 0.56,0.56,0.56,0.56,0.57,0.57,0.57,0.57,0.57,0.57, 0.57,0.57,0.57,0.58,0.58,0.58,0.58,0.58,0.58,0.58, 0.58,0.58,0.58,0.58,0.58,0.58,0.58,0.58,0.58],
  [0.19,0.2,0.21,0.24,0.29,0.34,0.38,0.41,0.43,0.44, 0.45,0.45,0.46,0.46,0.46,0.46,0.46,0.46,0.46,0.46, 0.46,0.46,0.46,0.46,0.46,0.46,0.46,0.46,0.46,0.46, 0.46,0.46,0.46,0.46,0.46,0.46,0.46,0.46,0.46,0.46, 0.46,0.46,0.46,0.46,0.46,0.46,0.46,0.46,0.46],
  [0.19,0.2,0.21,0.24,0.3,0.36,0.41,0.44,0.46,0.47, 0.48,0.48,0.49,0.49,0.49,0.49,0.49,0.49,0.49,0.49, 0.49,0.49,0.49,0.49,0.49,0.49,0.49,0.49,0.49,0.49, 0.49,0.49,0.49,0.49,0.49,0.49,0.48,0.48,0.48,0.48, 0.48,0.48,0.48,0.48,0.48,0.48,0.48,0.48,0.48],
];

// ---------------- Ribose ----------------
const RIBOSE = [
  [0.18,0.18,0.2,0.24,0.29,0.35,0.43,0.45,0.47,0.5, 0.54,0.57,0.6,0.63,0.66,0.68,0.7,0.71,0.72,0.73, 0.74,0.74,0.75,0.75,0.76,0.76,0.77,0.78,0.79,0.8, 0.81,0.82,0.83,0.84,0.85,0.87,0.9,0.95,1.0,1.05, 1.1,1.15,1.2,1.25,1.28,1.3,1.33,1.36,1.4],
  [0.18,0.18,0.19,0.22,0.26,0.3,0.34,0.36,0.38,0.39, 0.4,0.41,0.41,0.42,0.42,0.42,0.42,0.42,0.42,0.42, 0.42,0.42,0.42,0.42,0.42,0.42,0.42,0.42,0.42,0.42, 0.42,0.42,0.42,0.42,0.43,0.43,0.44,0.45,0.47,0.5, 0.55,0.6,0.68,0.8,0.95,1.1,1.25,1.4,1.5],
  [0.17,0.17,0.18,0.2,0.22,0.25,0.28,0.3,0.32,0.34, 0.35,0.37,0.38,0.39,0.4,0.41,0.42,0.43,0.44,0.45, 0.46,0.47,0.48,0.49,0.5,0.51,0.52,0.53,0.54,0.55, 0.56,0.57,0.58,0.6,0.62,0.66,0.74,0.9,1.15,1.43, 1.74,2.02,2.26,2.46,2.66,2.75,2.81,2.87,2.94],
  [0.17,0.17,0.19,0.22,0.26,0.31,0.36,0.4,0.44,0.47, 0.5,0.52,0.54,0.56,0.57,0.58,0.59,0.6,0.6,0.61, 0.61,0.61,0.62,0.62,0.62,0.63,0.63,0.63,0.64,0.64, 0.65,0.66,0.67,0.68,0.7,0.72,0.75,0.8,0.85,0.92, 1.0,1.1,1.22,1.35,1.5,1.65,1.8,1.95,2.1],
  [0.17,0.17,0.18,0.19,0.22,0.25,0.28,0.31,0.33,0.35, 0.36,0.37,0.38,0.38,0.39,0.39,0.39,0.4,0.4,0.4, 0.4,0.4,0.41,0.41,0.41,0.41,0.41,0.41,0.41,0.41, 0.41,0.42,0.42,0.42,0.42,0.42,0.42,0.42,0.42,0.42, 0.42,0.42,0.42,0.42,0.42,0.42,0.42,0.42,0.42],
  [0.22,0.22,0.23,0.25,0.27,0.29,0.31,0.33,0.35,0.36, 0.37,0.38,0.38,0.38,0.38,0.37,0.37,0.37,0.36,0.36, 0.35,0.35,0.35,0.35,0.35,0.35,0.34,0.34,0.34,0.34, 0.34,0.34,0.34,0.34,0.34,0.34,0.335,0.335,0.335,0.335, 0.33,0.33,0.33,0.33,0.33,0.33,0.33,0.33,0.33],
  [0.21,0.21,0.22,0.24,0.28,0.3,0.33,0.35,0.37,0.39, 0.41,0.43,0.45,0.46,0.48,0.49,0.5,0.51,0.52,0.52, 0.53,0.53,0.54,0.54,0.55,0.55,0.55,0.55,0.56,0.56, 0.56,0.56,0.56,0.56,0.56,0.57,0.57,0.57,0.57,0.57, 0.57,0.57,0.58,0.58,0.58,0.58,0.58,0.58,0.58],
  [0.2,0.2,0.21,0.23,0.26,0.29,0.32,0.34,0.36,0.37, 0.38,0.38,0.39,0.39,0.39,0.39,0.39,0.39,0.39,0.39, 0.39,0.39,0.39,0.39,0.39,0.39,0.39,0.39,0.39,0.39, 0.39,0.39,0.39,0.39,0.39,0.39,0.39,0.39,0.39,0.39, 0.39,0.39,0.39,0.39,0.39,0.39,0.39,0.39,0.39],
  [0.2,0.2,0.21,0.24,0.28,0.32,0.36,0.39,0.42,0.44, 0.46,0.48,0.5,0.51,0.52,0.53,0.54,0.55,0.56,0.57, 0.57,0.58,0.58,0.59,0.59,0.6,0.6,0.61,0.61,0.62, 0.62,0.63,0.63,0.64,0.64,0.65,0.65,0.66,0.66,0.67, 0.67,0.67,0.68,0.68,0.68,0.69,0.69,0.69,0.69],
  [0.2,0.2,0.21,0.25,0.3,0.34,0.4,0.43,0.46,0.49, 0.52,0.55,0.58,0.61,0.63,0.65,0.67,0.69,0.7,0.71, 0.72,0.73,0.74,0.75,0.76,0.77,0.78,0.79,0.8,0.81, 0.82,0.83,0.84,0.85,0.86,0.86,0.87,0.87,0.88,0.88, 0.88,0.89,0.89,0.89,0.89,0.9,0.9,0.9,0.9],
  [0.19,0.19,0.21,0.25,0.3,0.35,0.39,0.41,0.43,0.44, 0.45,0.46,0.46,0.47,0.47,0.47,0.48,0.48,0.48,0.48, 0.48,0.48,0.49,0.49,0.49,0.49,0.49,0.49,0.49,0.5, 0.5,0.5,0.5,0.5,0.5,0.5,0.5,0.5,0.5,0.5, 0.5,0.5,0.5,0.5,0.5,0.5,0.5,0.5,0.5],
  [0.19,0.19,0.21,0.25,0.31,0.36,0.4,0.42,0.44,0.45, 0.46,0.47,0.48,0.48,0.49,0.49,0.5,0.5,0.5,0.51, 0.51,0.51,0.52,0.52,0.52,0.52,0.53,0.53,0.53,0.53, 0.54,0.54,0.54,0.54,0.55,0.55,0.55,0.55,0.55,0.56, 0.56,0.56,0.56,0.56,0.56,0.56,0.57,0.57,0.57],
  [0.18,0.18,0.19,0.21,0.24,0.27,0.3,0.32,0.34,0.35, 0.36,0.37,0.37,0.37,0.37,0.37,0.37,0.37,0.37,0.37, 0.37,0.37,0.37,0.37,0.37,0.37,0.37,0.37,0.37,0.37, 0.37,0.37,0.37,0.37,0.37,0.37,0.37,0.37,0.37,0.37, 0.37,0.37,0.37,0.37,0.37,0.37,0.37,0.37,0.37],
  [0.18,0.18,0.2,0.23,0.28,0.33,0.38,0.41,0.44,0.46, 0.48,0.5,0.51,0.52,0.53,0.54,0.55,0.56,0.57,0.58, 0.58,0.59,0.6,0.6,0.61,0.62,0.62,0.63,0.64,0.65, 0.66,0.67,0.68,0.7,0.72,0.75,0.8,0.86,0.93,1.0, 1.07,1.14,1.21,1.28,1.35,1.4,1.44,1.48,1.52],
];

// ---------------- Arabinose ----------------
const ARABINOSE = [
  [0.18,0.18,0.19,0.22,0.26,0.32,0.36,0.38,0.4,0.41, 0.42,0.43,0.44,0.45,0.46,0.47,0.48,0.49,0.5,0.51, 0.52,0.52,0.52,0.52,0.53,0.53,0.53,0.53,0.53,0.54, 0.54,0.55,0.55,0.56,0.57,0.58,0.6,0.61,0.62,0.63, 0.65,0.68,0.7,0.72,0.75,0.8,0.85,0.9,0.97],
  [0.18,0.18,0.19,0.21,0.23,0.25,0.26,0.27,0.27,0.27, 0.27,0.27,0.26,0.26,0.26,0.26,0.25,0.25,0.25,0.25, 0.24,0.24,0.24,0.24,0.24,0.24,0.24,0.25,0.25,0.25, 0.25,0.25,0.25,0.25,0.25,0.25,0.25,0.25,0.25,0.25, 0.25,0.25,0.25,0.25,0.25,0.25,0.25,0.25,0.25],
  [0.17,0.17,0.18,0.2,0.23,0.28,0.33,0.35,0.36,0.37, 0.37,0.38,0.38,0.38,0.39,0.39,0.39,0.4,0.4,0.4, 0.4,0.4,0.41,0.41,0.41,0.42,0.42,0.42,0.43,0.44, 0.45,0.46,0.48,0.53,0.6,0.7,0.87,1.12,1.43,1.8, 2.1,2.35,2.52,2.65,2.78,2.88,2.95,3.0,3.05],
  [0.18,0.18,0.19,0.22,0.26,0.31,0.35,0.37,0.38,0.39, 0.39,0.4,0.4,0.4,0.4,0.41,0.41,0.41,0.41,0.41, 0.41,0.42,0.42,0.42,0.42,0.42,0.43,0.43,0.43,0.43, 0.44,0.44,0.44,0.45,0.45,0.46,0.46,0.46,0.47,0.47, 0.47,0.48,0.48,0.48,0.48,0.49,0.49,0.49,0.5],
  [0.17,0.17,0.18,0.19,0.21,0.25,0.3,0.34,0.36,0.37, 0.37,0.38,0.38,0.38,0.38,0.38,0.38,0.38,0.38,0.38, 0.38,0.38,0.38,0.38,0.38,0.38,0.38,0.38,0.38,0.38, 0.38,0.38,0.38,0.38,0.38,0.38,0.38,0.38,0.38,0.38, 0.38,0.39,0.39,0.39,0.4,0.4,0.41,0.42,0.44],
  [0.22,0.22,0.23,0.24,0.25,0.26,0.27,0.28,0.28,0.29, 0.29,0.29,0.3,0.3,0.3,0.3,0.3,0.3,0.3,0.3, 0.3,0.3,0.3,0.3,0.3,0.3,0.3,0.3,0.3,0.3, 0.3,0.3,0.3,0.3,0.3,0.3,0.3,0.3,0.3,0.3, 0.3,0.3,0.3,0.3,0.3,0.3,0.3,0.3,0.3],
  [0.21,0.21,0.22,0.23,0.25,0.26,0.28,0.28,0.28,0.28, 0.28,0.28,0.28,0.28,0.28,0.28,0.28,0.28,0.28,0.28, 0.28,0.28,0.28,0.27,0.27,0.27,0.27,0.27,0.27,0.27, 0.27,0.27,0.27,0.27,0.27,0.26,0.26,0.26,0.26,0.26, 0.26,0.26,0.26,0.26,0.26,0.255,0.255,0.255,0.255],
  [0.19,0.19,0.2,0.22,0.24,0.25,0.26,0.27,0.27,0.27, 0.27,0.27,0.27,0.27,0.27,0.27,0.27,0.27,0.27,0.27, 0.27,0.27,0.27,0.27,0.27,0.27,0.27,0.27,0.27,0.27, 0.27,0.27,0.27,0.27,0.27,0.27,0.27,0.27,0.27,0.27, 0.27,0.27,0.27,0.27,0.27,0.27,0.27,0.27,0.27],
  [0.2,0.2,0.21,0.23,0.26,0.28,0.3,0.31,0.31,0.32, 0.32,0.32,0.32,0.32,0.32,0.32,0.32,0.32,0.32,0.32, 0.32,0.32,0.32,0.32,0.32,0.32,0.32,0.32,0.32,0.32, 0.32,0.32,0.32,0.32,0.32,0.32,0.32,0.32,0.32,0.32, 0.32,0.32,0.32,0.32,0.32,0.32,0.32,0.32,0.32],
  [0.19,0.19,0.2,0.21,0.23,0.24,0.25,0.26,0.26,0.26, 0.26,0.26,0.26,0.26,0.26,0.26,0.26,0.26,0.26,0.26, 0.26,0.26,0.26,0.26,0.26,0.26,0.26,0.26,0.26,0.26, 0.26,0.26,0.26,0.26,0.26,0.26,0.26,0.26,0.26,0.26, 0.26,0.26,0.26,0.26,0.26,0.26,0.26,0.26,0.26],
  [0.2,0.2,0.21,0.23,0.26,0.29,0.31,0.32,0.33,0.34, 0.34,0.35,0.35,0.35,0.36,0.36,0.36,0.36,0.36,0.37, 0.37,0.37,0.37,0.37,0.37,0.37,0.37,0.37,0.37,0.37, 0.36,0.36,0.36,0.36,0.36,0.36,0.36,0.36,0.36,0.36, 0.36,0.36,0.36,0.36,0.36,0.36,0.36,0.35,0.35],
  [0.19,0.19,0.2,0.22,0.26,0.3,0.34,0.36,0.37,0.37, 0.38,0.38,0.38,0.38,0.38,0.38,0.38,0.38,0.38,0.38, 0.38,0.38,0.38,0.38,0.38,0.38,0.38,0.38,0.38,0.38, 0.38,0.38,0.38,0.38,0.38,0.38,0.38,0.38,0.38,0.38, 0.38,0.38,0.38,0.38,0.38,0.38,0.38,0.38,0.38],
  [0.19,0.19,0.2,0.22,0.25,0.27,0.29,0.3,0.3,0.3, 0.3,0.3,0.3,0.3,0.3,0.3,0.3,0.3,0.3,0.3, 0.3,0.3,0.3,0.3,0.3,0.3,0.3,0.3,0.3,0.3, 0.3,0.3,0.3,0.3,0.3,0.3,0.3,0.3,0.3,0.3, 0.3,0.3,0.3,0.3,0.3,0.3,0.3,0.3,0.3],
  [0.19,0.19,0.2,0.23,0.29,0.33,0.37,0.38,0.38,0.38, 0.38,0.38,0.38,0.38,0.38,0.38,0.38,0.38,0.38,0.38, 0.38,0.38,0.38,0.38,0.38,0.38,0.38,0.38,0.38,0.39, 0.39,0.4,0.41,0.42,0.44,0.48,0.56,0.66,0.8,0.95, 1.08,1.22,1.38,1.48,1.58,1.68,1.78,1.85,1.92],
];

// ---------------- Error bars (SD): [strain, first hour, values] ----------------
const MAL_ERR = [
  ['W1.1', 3, [0.02,0.03,0.05,0.08,0.1,0.15,0.15,0.12]],
];
const SUC_ERR = [
  ['8.1', 10, [0.04,0.05,0.06,0.08,0.1,0.12,0.13,0.14,0.14,0.14, 0.14,0.13,0.13,0.12,0.12,0.11,0.11,0.1,0.1,0.1, 0.1,0.1,0.1,0.1,0.1,0.1,0.1,0.1,0.1,0.1, 0.1,0.1,0.1,0.1,0.1,0.1,0.1,0.1,0.1]],
];
const GAL_ERR = [
  ['AJ11', 13, [0.12,0.15,0.18,0.2,0.2,0.18,0.15,0.12]],
  ['W1.1', 2, [0.02,0.03,0.03,0.03,0.03,0.04,0.05,0.05,0.06,0.06,0.07,0.08,0.1]],
];
const RAF_ERR = [
  ['8.1', 20, [0.01,0.01,0.01,0.01,0.02,0.02,0.02,0.02,0.03,0.03, 0.04,0.04,0.05,0.06,0.07,0.08,0.1,0.12,0.15,0.2, 0.25,0.3,0.4,0.45,0.55,0.55,0.45,0.35,0.3]],
  ['T2.5', 28, [0.05,0.08,0.1,0.12,0.15,0.15,0.12,0.1]],
  ['B1.1', 30, [0.06,0.08,0.1,0.12,0.12,0.1]],
];
const XYL_ERR = [
  ['B1.3', 1, [0.04]],
];
const RIB_ERR = [
  ['AJ11', 36, [0.08,0.1,0.12,0.15,0.18,0.2,0.2,0.2,0.2,0.18,0.18,0.16,0.15]],
  ['BGM55', 40, [0.05,0.08,0.12,0.18,0.25,0.28,0.3,0.3,0.28]],
  ['BGM37', 35, [0.05,0.1,0.2,0.35,0.6,0.8,0.8,0.7,0.55,0.45,0.35,0.3,0.25,0.2]],
  ['BGM40', 38, [0.1,0.15,0.2,0.25,0.3,0.3,0.3,0.3,0.3,0.3,0.28]],
  ['NCIMB8826R', 33, [0.04,0.06,0.1,0.15,0.2,0.25,0.3,0.35,0.38,0.4,0.4,0.4,0.38,0.35,0.33,0.3]],
];
const ARA_ERR = [
  ['AJ11', 36, [0.05,0.06,0.08,0.1,0.12,0.14,0.15,0.16,0.17,0.18,0.19,0.2,0.2]],
  ['BGM37', 32, [0.05,0.08,0.15,0.25,0.4,0.6,0.8,1.0,1.0,0.9,0.8,0.7,0.6,0.5,0.45,0.4,0.35]],
  ['NCIMB8826R', 34, [0.05,0.1,0.2,0.3,0.45,0.6,0.75,0.9,1.0,1.1,1.2,1.3,1.35,1.4,1.4]],
  ['BGM40', 30, [0.05,0.05,0.05,0.05,0.05,0.05,0.05,0.05,0.05,0.05,0.05,0.05,0.05,0.05,0.05,0.05,0.05,0.05,0.05]],
  ['T2.5', 8, [0.08,0.09,0.1,0.1,0.1,0.1,0.11,0.11,0.11,0.11, 0.11,0.11,0.11,0.11,0.11,0.11,0.11,0.11,0.11,0.11, 0.11,0.11,0.11,0.11,0.11,0.11,0.11,0.11,0.11,0.11, 0.12,0.12,0.12,0.12,0.12,0.12,0.12,0.12,0.12,0.12,0.12]],
];

// ---------------- Layout (pixel boxes of each plot area: left, top, right, bottom) ----------------
const PANELS = [
  { title: 'Glucose', values: GLUCOSE, errors: [], box: [78, 23, 433, 258], titleY: 30, yLabelY: 138, xLabelY: 0 },
  { title: 'Maltose', values: MALTOSE, errors: MAL_ERR, box: [509, 25, 859, 257], titleY: 28, yLabelY: 0, xLabelY: 0 },
  { title: 'Sucrose', values: SUCROSE, errors: SUC_ERR, box: [917, 25, 1267, 258], titleY: 37, yLabelY: 0, xLabelY: 0 },
  { title: 'Galactose', values: GALACTOSE, errors: GAL_ERR, box: [78, 323, 428, 557], titleY: 331, yLabelY: 438, xLabelY: 0 },
  { title: 'Raffinose', values: RAFFINOSE, errors: RAF_ERR, box: [492, 323, 844, 556], titleY: 330, yLabelY: 0, xLabelY: 0 },
  { title: 'Fructose', values: FRUCTOSE, errors: [], box: [921, 321, 1274, 556], titleY: 319, yLabelY: 0, xLabelY: 0 },
  { title: 'Xylose', values: XYLOSE, errors: XYL_ERR, box: [74, 602, 428, 837], titleY: 612, yLabelY: 718, xLabelY: 887 },
  { title: 'Ribose', values: RIBOSE, errors: RIB_ERR, box: [494, 604, 846, 837], titleY: 607, yLabelY: 0, xLabelY: 887 },
  { title: 'Arabinose', values: ARABINOSE, errors: ARA_ERR, box: [921, 602, 1274, 837], titleY: 614, yLabelY: 0, xLabelY: 888 },
];

const LEGEND_ROWS_Y = [998, 1051, 1103];
const LEGEND_LINE_X = [148, 341, 569, 805, 1037];
const LEGEND_TEXT_X = [218, 416, 646, 879, 1106];

const PAD_L = 50, PAD_T = 12, PAD_R = 14, PAD_B = 35;

function drawStar(ctx: CanvasRenderingContext2D, cx: number, cy: number, ro: number, ri: number, color: string) {
  ctx.beginPath();
  for (let k = 0; k < 10; k++) {
    const a = -Math.PI / 2 + (k * Math.PI) / 5;
    const rr = k % 2 === 0 ? ro : ri;
    const x = cx + rr * Math.cos(a), y = cy + rr * Math.sin(a);
    if (k === 0) ctx.moveTo(x, y); else ctx.lineTo(x, y);
  }
  ctx.closePath();
  ctx.fillStyle = color;
  ctx.fill();
}

function makeStarImage(color: string, r: number) {
  const size = Math.ceil(r * 2 + 2);
  const c = document.createElement('canvas');
  c.width = size; c.height = size;
  drawStar(c.getContext('2d')!, size / 2, size / 2, r, r * 0.45, color);
  return c;
}

function makeTriangleImage(color: string) {
  const c = document.createElement('canvas');
  c.width = 12; c.height = 12;
  const ctx = c.getContext('2d')!;
  ctx.fillStyle = color;
  ctx.beginPath();
  ctx.moveTo(0.3, 1.2); ctx.lineTo(11.7, 1.2); ctx.lineTo(6, 11.2); ctx.closePath();
  ctx.fill();
  ctx.fillStyle = '#ffffff';
  ctx.beginPath(); ctx.arc(6, 4.6, 1.0, 0, Math.PI * 2); ctx.fill();
  return c;
}

const errorBarPlugin = {
  id: 'errorBars',
  beforeDatasetDraw(chart: any, args: any) {
    const ds = chart.data.datasets[args.index];
    const errs = ds.errors as number[] | undefined;
    if (!errs) return;
    const ys = chart.scales.y;
    const ctx = chart.ctx;
    ctx.save();
    ctx.strokeStyle = ds.borderColor;
    ctx.lineWidth = 1;
    args.meta.data.forEach((pt: any, i: number) => {
      const e = errs[i];
      if (!e) return;
      const v = ds.data[i].y;
      const top = ys.getPixelForValue(v + e);
      const bot = ys.getPixelForValue(Math.max(v - e, 0.105));
      ctx.beginPath();
      ctx.moveTo(pt.x, top); ctx.lineTo(pt.x, bot);
      ctx.moveTo(pt.x - 3, top); ctx.lineTo(pt.x + 3, top);
      ctx.moveTo(pt.x - 3, bot); ctx.lineTo(pt.x + 3, bot);
      ctx.stroke();
    });
    ctx.restore();
  },
};

function buildDatasets(panel: any) {
  return STRAINS.map((name, si) => {
    const color = COLORS[si];
    const vals: number[] = panel.values[si];
    let errs: number[] | undefined;
    const spec = panel.errors.find((e: any) => e[0] === name);
    if (spec) {
      errs = HOURS.map(() => 0);
      spec[2].forEach((v: number, k: number) => { if (spec[1] + k < errs!.length) errs![spec[1] + k] = v; });
    }
    const ds: any = {
      label: name,
      data: HOURS.map((h, i) => ({ x: h, y: vals[i] })),
      borderColor: color,
      backgroundColor: color,
      borderWidth: 1.1,
      pointBorderColor: color,
      pointBackgroundColor: color,
      clip: false,
      order: DRAW_ORDER[si],
      errors: errs,
    };
    const m = MARKERS[si];
    if (m === 'tri') {
      Object.assign(ds, { pointStyle: makeTriangleImage(color), pointRadius: 5 });
    } else if (m === 'ring') {
      Object.assign(ds, { pointStyle: 'circle', pointRadius: 3.5, pointBorderWidth: 2.5, pointBackgroundColor: '#ffffff' });
    } else if (m === 'dot') {
      Object.assign(ds, { pointStyle: 'circle', pointRadius: 3.6, pointBorderWidth: 0 });
    } else if (m === 'square') {
      Object.assign(ds, { pointStyle: 'rect', pointRadius: 5, pointBorderWidth: 0 });
    } else if (m === 'star') {
      Object.assign(ds, { pointStyle: makeStarImage(color, 4.8), pointRadius: 4.8 });
    } else {
      Object.assign(ds, { pointStyle: 'crossRot', pointRadius: 4.2, pointBorderWidth: 2.3 });
    }
    return ds;
  });
}

function Panel({ panel }: { panel: any }) {
  const ref = useRef<HTMLCanvasElement>(null);
  const [ax, ty, rx, by] = panel.box;
  const w = rx - ax + PAD_L + PAD_R;
  const h = by - ty + PAD_T + PAD_B;
  useEffect(() => {
    const tickFont = { family: FONT, size: 19, weight: 'bold' as const };
    const grid = { display: true, drawOnChartArea: false, drawTicks: true, tickLength: 7, lineWidth: 3, color: '#000', tickColor: '#000', tickWidth: 3 };
    const border = { display: true, width: 3, color: '#000' };
    const chart = new Chart(ref.current!, {
      type: 'line',
      data: { datasets: buildDatasets(panel) },
      plugins: [errorBarPlugin],
      options: {
        responsive: false,
        animation: false,
        events: [],
        layout: { padding: { left: 0, top: PAD_T, right: PAD_R, bottom: 0 } },
        plugins: { legend: { display: false }, tooltip: { enabled: false }, title: { display: false } },
        elements: { line: { tension: 0 } },
        scales: {
          x: {
            type: 'linear', min: 0, max: 48,
            afterBuildTicks: (s: any) => { s.ticks = X_TICKS.map((v) => ({ value: v })); },
            afterFit: (s: any) => { s.height = PAD_B; },
            grid, border,
            ticks: { color: '#000', font: tickFont, padding: 2, maxRotation: 0, autoSkip: false },
          },
          y: {
            type: 'logarithmic', min: 0.1, max: 10,
            afterBuildTicks: (s: any) => { s.ticks = Y_TICKS.map((v) => ({ value: v })); },
            afterFit: (s: any) => { s.width = PAD_L; },
            grid, border,
            ticks: { color: '#000', font: tickFont, padding: 2, autoSkip: false, callback: (v: any) => String(v) },
          },
        },
      } as any,
    });
    return () => chart.destroy();
  }, []);
  const cx = (ax + rx) / 2;
  return (
    <>
      <canvas ref={ref} width={w} height={h} style={{ position: 'absolute', left: ax - PAD_L, top: ty - PAD_T, width: w, height: h }} />
      <div style={{ position: 'absolute', left: cx, top: panel.titleY, transform: 'translate(-50%, -50%)', fontWeight: 700, fontSize: 22.5, whiteSpace: 'nowrap', lineHeight: 1 }}>{panel.title}</div>
      {panel.yLabelY ? (
        <div style={{ position: 'absolute', left: 22, top: panel.yLabelY, transform: 'translate(-50%, -50%) rotate(-90deg)', fontWeight: 700, fontSize: 18.5, whiteSpace: 'nowrap', lineHeight: 1 }}>
          Log<sub style={{ fontSize: '65%', verticalAlign: '-0.25em' }}>10</sub> OD<sub style={{ fontSize: '65%', verticalAlign: '-0.25em' }}>600</sub>
        </div>
      ) : null}
      {panel.xLabelY ? (
        <div style={{ position: 'absolute', left: cx, top: panel.xLabelY, transform: 'translate(-50%, -50%)', fontWeight: 700, fontSize: 19, whiteSpace: 'nowrap', lineHeight: 1 }}>Time (h)</div>
      ) : null}
    </>
  );
}

function drawLegendMarker(ctx: CanvasRenderingContext2D, kind: string, x: number, y: number, color: string) {
  ctx.fillStyle = color;
  ctx.strokeStyle = color;
  if (kind === 'tri') {
    ctx.beginPath();
    ctx.moveTo(x - 7, y - 5); ctx.lineTo(x + 7, y - 5); ctx.lineTo(x, y + 7); ctx.closePath();
    ctx.fill();
    ctx.fillStyle = '#fff';
    ctx.beginPath(); ctx.arc(x, y - 1.5, 1.5, 0, Math.PI * 2); ctx.fill();
  } else if (kind === 'ring') {
    ctx.beginPath(); ctx.arc(x, y, 6.5, 0, Math.PI * 2); ctx.fill();
    ctx.fillStyle = '#fff';
    ctx.beginPath(); ctx.arc(x, y, 3.3, 0, Math.PI * 2); ctx.fill();
    ctx.fillStyle = color;
    ctx.fillRect(x - 2, y - 0.6, 4, 1.2);
  } else if (kind === 'dot') {
    ctx.beginPath(); ctx.arc(x, y, 6, 0, Math.PI * 2); ctx.fill();
  } else if (kind === 'square') {
    ctx.fillRect(x - 6, y - 6, 12, 12);
  } else if (kind === 'star') {
    drawStar(ctx, x, y, 7.5, 3.2, color);
  } else {
    ctx.lineWidth = 3.5;
    ctx.beginPath();
    ctx.moveTo(x - 5.5, y - 5.5); ctx.lineTo(x + 5.5, y + 5.5);
    ctx.moveTo(x + 5.5, y - 5.5); ctx.lineTo(x - 5.5, y + 5.5);
    ctx.stroke();
  }
}

function LegendIcon({ si }: { si: number }) {
  const ref = useRef<HTMLCanvasElement>(null);
  useEffect(() => {
    const ctx = ref.current!.getContext('2d')!;
    ctx.clearRect(0, 0, 44, 22);
    ctx.strokeStyle = COLORS[si];
    ctx.lineWidth = 2;
    ctx.beginPath(); ctx.moveTo(1, 11); ctx.lineTo(42, 11); ctx.stroke();
    drawLegendMarker(ctx, MARKERS[si], 21.5, 11, COLORS[si]);
  }, [si]);
  return <canvas ref={ref} width={44} height={22} style={{ position: 'absolute', left: 0, top: -11, width: 44, height: 22 }} />;
}

function Legend() {
  return (
    <>
      {STRAINS.map((name, si) => {
        const row = Math.floor(si / 5);
        const col = si % 5;
        const y = LEGEND_ROWS_Y[row];
        return (
          <React.Fragment key={name}>
            <div style={{ position: 'absolute', left: LEGEND_LINE_X[col], top: y }}>
              <LegendIcon si={si} />
            </div>
            <div style={{ position: 'absolute', left: LEGEND_TEXT_X[col], top: y, transform: 'translateY(-50%)', fontSize: 26.5, lineHeight: 1, whiteSpace: 'nowrap', color: '#000' }}>{name}</div>
          </React.Fragment>
        );
      })}
    </>
  );
}

export default function App() {
  return (
    <div style={{ position: 'absolute', left: 0, top: 0, width: 1285, height: 1118, background: '#fff', fontFamily: FONT, color: '#000', overflow: 'hidden' }}>
      {PANELS.map((p) => <Panel key={p.title} panel={p} />)}
      <Legend />
    </div>
  );
}
